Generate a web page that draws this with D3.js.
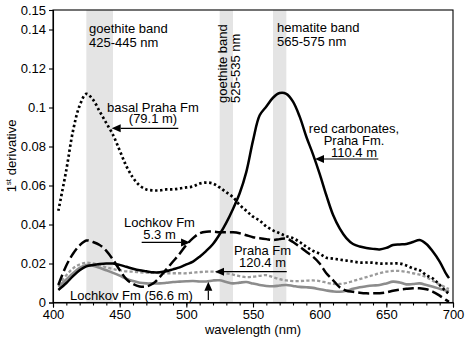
<!DOCTYPE html>
<html>
<head>
<meta charset="utf-8">
<script src="https://cdn.jsdelivr.net/npm/d3@7"></script>
<style>
  html, body { margin: 0; padding: 0; background: #fff; }
  svg { display: block; font-family: "Liberation Sans", Arial, sans-serif; }
</style>
</head>
<body>
<svg id="chart" width="465" height="346"></svg>
<script>
// Wavelength grid (nm) shared by every spectrum
const wavelength = [404, 410, 415, 420, 425, 430, 435, 440, 445, 450,
  455, 460, 465, 470, 475, 480, 485, 490, 495, 500,
  505, 510, 515, 520, 525, 530, 535, 540, 545, 550,
  555, 560, 565, 570, 575, 580, 585, 590, 595, 600,
  605, 610, 615, 620, 625, 630, 635, 640, 645, 650,
  655, 660, 665, 670, 675, 680, 685, 690, 695, 697];

// First-derivative spectra
const basalPraha = [0.047, 0.068, 0.088, 0.101, 0.107, 0.104, 0.098, 0.092, 0.086, 0.078,
  0.070, 0.064, 0.060, 0.058, 0.0575, 0.0575, 0.058, 0.058, 0.0585, 0.059,
  0.0595, 0.061, 0.0615, 0.061, 0.059, 0.0565, 0.054, 0.050, 0.047, 0.044,
  0.042, 0.039, 0.037, 0.0355, 0.034, 0.033, 0.031, 0.0286, 0.0265, 0.025,
  0.023, 0.0225, 0.022, 0.0215, 0.021, 0.0205, 0.0205, 0.0204, 0.020, 0.020,
  0.020, 0.020, 0.019, 0.0175, 0.0165, 0.014, 0.0122, 0.009, 0.0055, 0.0045];

const redCarbonates = [0.0064, 0.010, 0.0135, 0.0165, 0.0185, 0.0192, 0.0197, 0.020, 0.020, 0.0193,
  0.0183, 0.0173, 0.0165, 0.016, 0.0155, 0.0155, 0.016, 0.017, 0.018, 0.0195,
  0.021, 0.0235, 0.0265, 0.030, 0.035, 0.041, 0.048, 0.056, 0.067, 0.083,
  0.096, 0.1005, 0.105, 0.1074, 0.107, 0.103, 0.0953, 0.085, 0.076, 0.066,
  0.055, 0.045, 0.038, 0.033, 0.030, 0.0287, 0.028, 0.0275, 0.0272, 0.028,
  0.0295, 0.0298, 0.030, 0.031, 0.032, 0.030, 0.026, 0.021, 0.0145, 0.0125];

const lochkov53 = [0.009, 0.019, 0.025, 0.0293, 0.0318, 0.031, 0.0295, 0.0265, 0.022, 0.0167,
  0.012, 0.0095, 0.0082, 0.0082, 0.0097, 0.013, 0.017, 0.021, 0.025, 0.0295,
  0.033, 0.0355, 0.0363, 0.0363, 0.036, 0.036, 0.036, 0.0355, 0.0345, 0.0335,
  0.033, 0.0325, 0.032, 0.0325, 0.0328, 0.031, 0.0286, 0.026, 0.0235, 0.020,
  0.015, 0.0115, 0.0078, 0.006, 0.0055, 0.005, 0.0047, 0.0047, 0.0048, 0.0052,
  0.006, 0.0066, 0.007, 0.0073, 0.0073, 0.0068, 0.0055, 0.0035, 0.0012, 0.0004];

const praha1204 = [0.009, 0.014, 0.0175, 0.0195, 0.0204, 0.020, 0.0192, 0.018, 0.0172, 0.0165,
  0.016, 0.0158, 0.0155, 0.0153, 0.0152, 0.0151, 0.015, 0.015, 0.015, 0.015,
  0.0153, 0.0156, 0.0158, 0.0158, 0.0155, 0.015, 0.0143, 0.0135, 0.013, 0.0132,
  0.0137, 0.014, 0.013, 0.012, 0.0113, 0.011, 0.011, 0.0112, 0.0113, 0.011,
  0.0102, 0.0095, 0.0095, 0.010, 0.011, 0.012, 0.013, 0.014, 0.015, 0.0158,
  0.0162, 0.0162, 0.0157, 0.015, 0.0143, 0.013, 0.011, 0.0092, 0.0075, 0.007];

const lochkov566 = [0.0081, 0.0118, 0.015, 0.0177, 0.0192, 0.0188, 0.0178, 0.0165, 0.0152, 0.0138,
  0.0122, 0.011, 0.0101, 0.0098, 0.0098, 0.0098, 0.0101, 0.0105, 0.0107, 0.0109,
  0.011, 0.0108, 0.0108, 0.0113, 0.0114, 0.0105, 0.0098, 0.0102, 0.0105, 0.0097,
  0.009, 0.0085, 0.0083, 0.0087, 0.009, 0.0085, 0.008, 0.0078, 0.0075, 0.0068,
  0.0062, 0.0057, 0.0055, 0.006, 0.007, 0.0078, 0.0083, 0.0087, 0.009, 0.0098,
  0.0107, 0.0103, 0.0093, 0.0095, 0.0098, 0.009, 0.0081, 0.007, 0.006, 0.0055];

// Absorption bands (nm)
const bandStart = [425, 525, 565];
const bandEnd = [445, 535, 575];

// Axis ticks
const xTicks = [400, 450, 500, 550, 600, 650, 700];
const yTicks = [0, 0.02, 0.04, 0.06, 0.08, 0.1, 0.12, 0.14, 0.15];
const yTickLabels = ["0", "0.02", "0.04", "0.06", "0.08", "0.1", "0.12", "0.14", "0.15"];

const svg = d3.select("#chart");
const x = d3.scaleLinear().domain([400, 700]).range([53, 453]);
const y = d3.scaleLinear().domain([0, 0.15]).range([302.5, 10]);

// band shading
svg.append("g").selectAll("rect")
  .data(bandStart)
  .join("rect")
  .attr("x", (d) => x(d))
  .attr("width", (d, i) => x(bandEnd[i]) - x(d))
  .attr("y", y(0.15))
  .attr("height", y(0) - y(0.15))
  .attr("fill", "#e4e4e4");

// spectra
const series = [
  { values: lochkov566, color: "#8c8c8c", width: 2.6, dash: null },
  { values: praha1204, color: "#9a9a9a", width: 2.3, dash: "3.2,2.2" },
  { values: lochkov53, color: "#000", width: 2.5, dash: "11,4" },
  { values: basalPraha, color: "#000", width: 2.7, dash: "2.4,2.6" },
  { values: redCarbonates, color: "#000", width: 2.5, dash: null }
];

const line = d3.line()
  .x((d) => x(d[0]))
  .y((d) => y(d[1]))
  .curve(d3.curveCatmullRom.alpha(0.5));

svg.append("g").selectAll("path")
  .data(series)
  .join("path")
  .attr("d", (s) => line(wavelength.map((w, i) => [w, s.values[i]])))
  .attr("fill", "none")
  .attr("stroke", (s) => s.color)
  .attr("stroke-width", (s) => s.width)
  .attr("stroke-dasharray", (s) => s.dash)
  .attr("stroke-linejoin", "round");

// frame
svg.append("rect")
  .attr("x", x(400)).attr("y", y(0.15))
  .attr("width", x(700) - x(400)).attr("height", y(0) - y(0.15))
  .attr("fill", "none").attr("stroke", "#000").attr("stroke-width", 1.1);

// x axis: major and minor ticks
const xAxis = svg.append("g")
  .attr("transform", `translate(0,${y(0)})`)
  .call(d3.axisBottom(x).tickValues(xTicks).tickSize(5).tickPadding(2).tickFormat(d3.format("d")));
svg.append("g")
  .attr("transform", `translate(0,${y(0)})`)
  .call(d3.axisBottom(x).tickValues(d3.range(410, 700, 10)).tickSize(3).tickFormat(""))
  .call((g) => g.select(".domain").remove());

// y axis
const yAxis = svg.append("g")
  .attr("transform", `translate(${x(400)},0)`)
  .call(d3.axisLeft(y).tickValues(yTicks).tickSize(4).tickPadding(3)
    .tickFormat((d, i) => yTickLabels[i]));

svg.selectAll(".tick text")
  .attr("font-family", "Liberation Sans, Arial, sans-serif")
  .attr("font-size", 13)
  .attr("fill", "#000");
svg.selectAll(".domain, .tick line").attr("stroke", "#000").attr("stroke-width", 1.1);

// axis titles
svg.append("text")
  .attr("x", (x(400) + x(700)) / 2).attr("y", 334)
  .attr("text-anchor", "middle").attr("font-size", 13)
  .text("wavelength (nm)");

const yTitle = svg.append("text")
  .attr("transform", "translate(16,156) rotate(-90)")
  .attr("text-anchor", "middle").attr("font-size", 13);
yTitle.append("tspan").text("1");
yTitle.append("tspan").attr("font-size", 8).attr("dy", -5).text("st");
yTitle.append("tspan").attr("dy", 5).text(" derivative");

// text helper
function label(lines, px, py, anchor, lh) {
  const t = svg.append("text")
    .attr("font-size", 13)
    .attr("text-anchor", anchor);
  lines.forEach((s, i) => {
    t.append("tspan").attr("x", px).attr("y", py + i * lh).text(s);
  });
  return t;
}

// band captions
label(["goethite band", "425-445 nm"], 89, 32.5, "start", 14.2);
label(["hematite band", "565-575 nm"], 277, 32, "start", 14.2);
svg.append("text")
  .attr("transform", `translate(226.5,103) rotate(-90)`)
  .attr("font-size", 13).text("goethite band");
svg.append("text")
  .attr("transform", `translate(240,103) rotate(-90)`)
  .attr("font-size", 13).text("525-535 nm");

// arrow helper: line from (x1,y1) to tip (x2,y2) with filled head
function arrow(x1, y1, x2, y2) {
  const ang = Math.atan2(y2 - y1, x2 - x1);
  const len = 9, half = 4;
  const bx = x2 - len * Math.cos(ang), by = y2 - len * Math.sin(ang);
  svg.append("line")
    .attr("x1", x1).attr("y1", y1).attr("x2", bx).attr("y2", by)
    .attr("stroke", "#000").attr("stroke-width", 1.2);
  svg.append("path")
    .attr("d", `M${x2},${y2}L${bx - half * Math.sin(ang)},${by + half * Math.cos(ang)}L${bx + half * Math.sin(ang)},${by - half * Math.cos(ang)}Z`)
    .attr("fill", "#000");
}

// sample annotations
label(["basal Praha Fm", "(79.1 m)"], 153, 111.5, "middle", 11.8);
arrow(x(494), y(0.0893), x(444), y(0.0893));

label(["red carbonates,", "Praha Fm.", "110.4 m"], 354, 132.5, "middle", 12.3);
arrow(x(644), y(0.0736), x(596.5), y(0.0736));

label(["Lochkov Fm", "5.3 m"], 159.5, 227.3, "middle", 11.5);
arrow(x(466.5), y(0.0308), x(502.8), y(0.0308));

label(["Praha Fm", "120.4 m"], 262.5, 255, "middle", 11.7);
arrow(x(575.3), y(0.0158), x(521.5), y(0.0158));

label(["Lochkov Fm (56.6 m)"], 70, 300, "start", 12);
arrow(x(516.5), y(0.0013), x(516.5), y(0.0107));
</script>
</body>
</html>
